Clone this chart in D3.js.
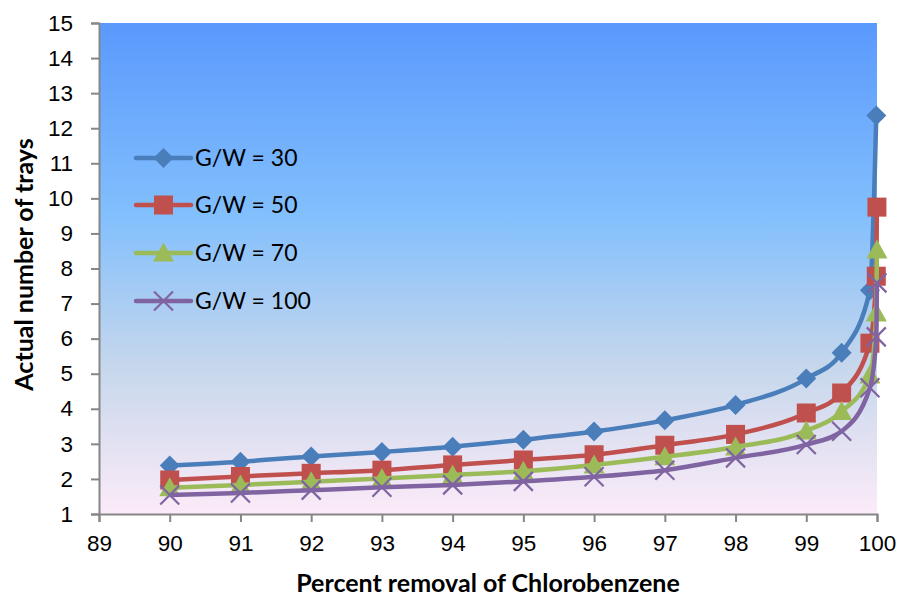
<!DOCTYPE html>
<html>
<head>
<meta charset="utf-8">
<script src="https://cdn.jsdelivr.net/npm/d3@7"></script>
<style>
  body { margin: 0; background: white; }
  svg { display: block; }
</style>
</head>
<body>
<svg></svg>
<script>
// Data
const percent_removal = [90, 91, 92, 93, 94, 95, 96, 97, 98, 99, 99.5, 99.9, 99.99, 99.999]
const trays_gw30 = [2.38, 2.49, 2.64, 2.77, 2.92, 3.12, 3.35, 3.67, 4.11, 4.86, 5.6, 7.38, 12.36]
const trays_gw50 = [1.97, 2.07, 2.16, 2.25, 2.4, 2.54, 2.69, 2.96, 3.27, 3.88, 4.45, 5.87, 7.78, 9.75]
const trays_gw70 = [1.75, 1.83, 1.92, 2.01, 2.11, 2.22, 2.4, 2.63, 2.91, 3.37, 3.92, 4.96, 6.73, 8.53]
const trays_gw100 = [1.54, 1.6, 1.68, 1.76, 1.83, 1.93, 2.06, 2.25, 2.6, 2.98, 3.36, 4.6, 6.05, 7.59]
const series_names = ["G/W = 30", "G/W = 50", "G/W = 70", "G/W = 100"]
const x_ticks = [89, 90, 91, 92, 93, 94, 95, 96, 97, 98, 99, 100]
const y_ticks = d3.range(1, 16)

const width = 901
const height = 597
const margin = {left: 99, right: 24, top: 23, bottom: 83}

const svg = d3.select("svg")
    .attr("width", width)
    .attr("height", height)

const x = d3.scaleLinear()
    .domain([89, 100])
    .range([margin.left, width - margin.right])

const y = d3.scaleLinear()
    .domain([1, 15])
    .range([height - margin.bottom, margin.top])

// Plot area gradient (Excel "Daybreak")
const defs = svg.append("defs")
const grad = defs.append("linearGradient")
    .attr("id", "plotbg")
    .attr("x1", 0).attr("y1", 0)
    .attr("x2", 0).attr("y2", 1)
grad.append("stop").attr("offset", "0%").attr("stop-color", "#5a99fd")
grad.append("stop").attr("offset", "39%").attr("stop-color", "#82bffd")
grad.append("stop").attr("offset", "70%").attr("stop-color", "#c6d7ec")
grad.append("stop").attr("offset", "100%").attr("stop-color", "#fcebf8")

svg.append("rect")
    .attr("x", x(89))
    .attr("y", y(15))
    .attr("width", x(100) - x(89))
    .attr("height", y(1) - y(15))
    .attr("fill", "url(#plotbg)")

// Axes
const axis_color = "#868686"
const tick_font = "Arial, 'Liberation Sans', sans-serif"

const x_axis = svg.append("g")
    .attr("transform", `translate(0,${y(1)})`)
    .call(d3.axisBottom(x).tickValues(x_ticks).tickFormat(d3.format("d")).tickSizeOuter(0).tickSize(8).tickPadding(13))
const y_axis = svg.append("g")
    .attr("transform", `translate(${x(89)},0)`)
    .call(d3.axisLeft(y).tickValues(y_ticks).tickFormat(d3.format("d")).tickSizeOuter(0).tickSize(8).tickPadding(18))

for (const ax of [x_axis, y_axis]) {
    ax.select(".domain").attr("stroke", axis_color).attr("stroke-width", 2)
    ax.selectAll(".tick line").attr("stroke", axis_color).attr("stroke-width", 2)
    ax.selectAll(".tick text")
        .attr("fill", "black")
        .attr("font-family", tick_font)
        .attr("font-size", "22.5px")
}

// Series
const colors = ["#4a7ebb", "#c0504d", "#9bbb59", "#8064a2"]
const all_series = [trays_gw30, trays_gw50, trays_gw70, trays_gw100]
const marker_types = ["diamond", "square", "triangle", "cross"]

const line = d3.line()
    .x(d => x(d[0]))
    .y(d => y(d[1]))
    .curve(d3.curveMonotoneX)

function drawMarker(g, type, cx, cy, color) {
    if (type === "diamond") {
        g.append("path")
            .attr("d", `M${cx},${cy - 10}L${cx + 10},${cy}L${cx},${cy + 10}L${cx - 10},${cy}Z`)
            .attr("fill", color)
    } else if (type === "square") {
        g.append("rect")
            .attr("x", cx - 9.5).attr("y", cy - 9.5)
            .attr("width", 19).attr("height", 19)
            .attr("fill", color)
    } else if (type === "triangle") {
        g.append("path")
            .attr("d", `M${cx},${cy - 10.5}L${cx + 10.5},${cy + 8.5}L${cx - 10.5},${cy + 8.5}Z`)
            .attr("fill", color)
    } else {
        g.append("path")
            .attr("d", `M${cx - 9.5},${cy - 9.5}L${cx + 9.5},${cy + 9.5}M${cx + 9.5},${cy - 9.5}L${cx - 9.5},${cy + 9.5}`)
            .attr("stroke", color)
            .attr("stroke-width", 2.2)
            .attr("fill", "none")
    }
}

all_series.forEach(function(values, i) {
    const pts = values.map((v, j) => [percent_removal[j], v])
    const g = svg.append("g")
    g.append("path")
        .attr("d", line(pts))
        .attr("fill", "none")
        .attr("stroke", colors[i])
        .attr("stroke-width", 4.5)
        .attr("stroke-linejoin", "round")
    pts.forEach(function(p) {
        drawMarker(g, marker_types[i], x(p[0]), y(p[1]), colors[i])
    })
})

// Legend
const legend_rows = [158, 205, 253, 301]
series_names.forEach(function(name, i) {
    const g = svg.append("g")
    const ly = legend_rows[i]
    g.append("line")
        .attr("x1", 136).attr("x2", 191)
        .attr("y1", ly).attr("y2", ly)
        .attr("stroke", colors[i])
        .attr("stroke-width", 4.5)
        .attr("stroke-linecap", "round")
    drawMarker(g, marker_types[i], 163.5, ly, colors[i])
    g.append("text")
        .attr("x", 195)
        .attr("y", ly + 8)
        .attr("font-family", "Lato, 'Open Sans', sans-serif")
        .attr("font-size", "23px")
        .attr("fill", "black")
        .text(name)
})

// Axis titles
svg.append("text")
    .attr("x", (x(89) + x(100)) / 2)
    .attr("y", 592)
    .attr("text-anchor", "middle")
    .attr("font-family", "Lato, 'Open Sans', sans-serif")
    .attr("font-weight", "bold")
    .attr("font-size", "25px")
    .attr("fill", "black")
    .text("Percent removal of Chlorobenzene")

svg.append("text")
    .attr("transform", `translate(33,${(y(1) + y(15)) / 2 - 4}) rotate(-90)`)
    .attr("text-anchor", "middle")
    .attr("font-family", "Lato, 'Open Sans', sans-serif")
    .attr("font-weight", "bold")
    .attr("font-size", "25px")
    .attr("fill", "black")
    .text("Actual number of trays")
</script>
</body>
</html>
